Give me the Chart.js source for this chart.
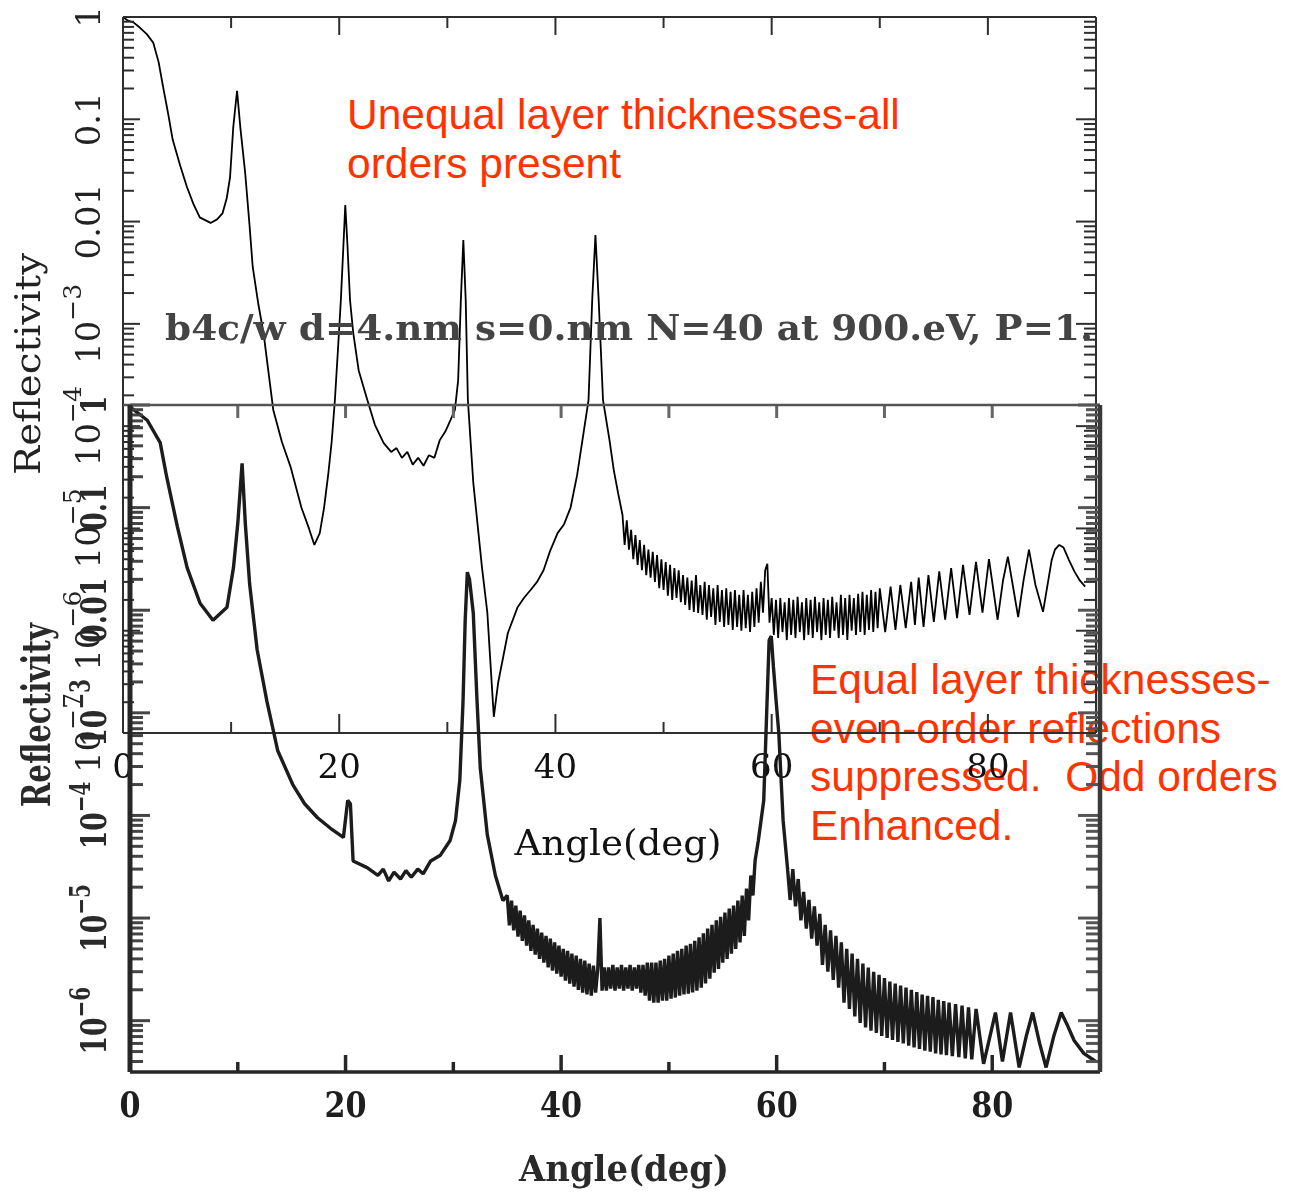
<!DOCTYPE html>
<html>
<head>
<meta charset="utf-8">
<script src="https://cdn.jsdelivr.net/npm/chart.js@4"></script>
<style>
  html, body { margin: 0; padding: 0; background: #fff; }
  #stage { position: relative; width: 1291px; height: 1199px; overflow: hidden; }
  #stage canvas { position: absolute; left: 0; top: 0; }
  .note { position: absolute; z-index: 0; color: #ff3300; font-family: "Liberation Sans", Arial, sans-serif;
          font-size: 42.5px; line-height: 48.5px; white-space: pre; }
</style>
</head>
<body>
<div id="stage">
  <div class="note" style="left:347px; top:91px;">Unequal layer thicknesses-all
orders present</div>
  <div class="note" style="left:810px; top:656px;">Equal layer thicknesses-
even-order reflections
suppressed.  Odd orders
Enhanced.</div>
  <canvas id="top" width="1291" height="1199" style="z-index:1"></canvas>
  <canvas id="bottom" width="1291" height="1199" style="z-index:2"></canvas>
</div>
<script>
// unequal layers (upper plot)
const topAngle = [
  0, 0.4, 1.0, 1.6, 2.2, 2.8, 3.3, 3.7, 4.2, 4.6,
  5.3, 5.9, 6.5, 7.1, 8.1, 8.7, 9.2, 9.6, 9.9, 10.2,
  10.55, 10.85, 11.3, 11.7, 12.0, 12.5, 13.0, 13.9, 14.7, 15.5,
  16.5, 17.2, 17.7, 18.2, 18.6, 19.0, 19.3, 19.6, 19.9, 20.15,
  20.4, 20.56, 20.75, 21.0, 21.3, 21.8, 22.6, 23.3, 24.1, 24.8,
  25.3, 25.8, 26.3, 26.8, 27.3, 27.8, 28.3, 28.8, 29.3, 29.8,
  30.3, 30.7, 31.0, 31.25, 31.48, 31.7, 31.9, 32.4, 33.2, 33.7,
  34.2, 34.3, 34.7, 35.6, 36.5, 37.1, 37.7, 38.3, 38.9, 39.5,
  40.2, 40.8, 41.4, 42.0, 42.6, 43.06, 43.4, 43.7, 44.0, 44.4,
  45.0, 45.4, 45.8, 46.2, 46.4, 46.6, 46.8, 47.0, 47.2, 47.4,
  47.6, 47.8, 48.0, 48.2, 48.4, 48.6, 48.8, 49.0, 49.2, 49.4,
  49.6, 49.8, 50.0, 50.2, 50.4, 50.6, 50.8, 51.0, 51.2, 51.4,
  51.6, 51.8, 52.0, 52.2, 52.4, 52.6, 52.8, 53.0, 53.2, 53.4,
  53.6, 53.8, 54.0, 54.2, 54.4, 54.6, 54.8, 55.0, 55.2, 55.4,
  55.6, 55.8, 56.0, 56.2, 56.4, 56.6, 56.8, 57.0, 57.2, 57.4,
  57.6, 57.8, 58.0, 58.2, 58.4, 58.6, 58.8, 59.0, 59.2, 59.4,
  59.6, 59.8, 60.0, 60.2, 60.4, 60.6, 60.8, 61.0, 61.2, 61.4,
  61.6, 61.8, 62.0, 62.2, 62.4, 62.6, 62.8, 63.0, 63.2, 63.4,
  63.6, 63.8, 64.0, 64.2, 64.4, 64.6, 64.8, 65.0, 65.2, 65.4,
  65.6, 65.8, 66.0, 66.2, 66.4, 66.6, 66.8, 67.0, 67.2, 67.4,
  67.6, 67.8, 68.0, 68.2, 68.4, 68.6, 68.8, 69.0, 69.2, 69.4,
  69.6, 69.8, 70.0, 70.5, 71.0, 71.45, 71.9, 72.4, 72.9, 73.25,
  73.6, 74.05, 74.5, 75.0, 75.5, 76.05, 76.6, 77.15, 77.7, 78.3,
  78.9, 79.5, 80.1, 80.9, 81.4, 81.85, 82.3, 82.8, 83.3, 83.8,
  84.4, 85.1, 85.9, 86.2, 86.6, 87.0, 87.5, 88.0, 88.5, 89.0
];
const topRefl = [
  1.0, 0.93, 0.88, 0.78, 0.68, 0.56, 0.36, 0.21, 0.11, 0.063,
  0.035, 0.022, 0.015, 0.011, 0.0097, 0.0105, 0.012, 0.017, 0.027, 0.084,
  0.19, 0.084, 0.030, 0.0093, 0.0036, 0.0016, 8.1e-4, 1.44e-4, 7.0e-5, 4.0e-5,
  1.6e-5, 1.0e-5, 6.9e-6, 9.0e-6, 1.6e-5, 3.5e-5, 7.0e-5, 1.8e-4, 6.0e-4, 1.7e-3,
  6.2e-3, 0.0145, 6.2e-3, 1.7e-3, 8.1e-4, 3.5e-4, 1.8e-4, 1.03e-4, 6.85e-5, 5.6e-5,
  6.1e-5, 4.9e-5, 5.6e-5, 4.2e-5, 4.9e-5, 4.1e-5, 5.2e-5, 4.9e-5, 7.3e-5, 8.8e-5,
  1.15e-4, 1.44e-4, 2.8e-4, 1.7e-3, 6.6e-3, 1.7e-3, 1.8e-4, 2.8e-5, 4.2e-6, 1.5e-6,
  2.1e-7, 1.44e-7, 3.1e-7, 9.5e-7, 1.7e-6, 2.1e-6, 2.5e-6, 3.0e-6, 3.9e-6, 6.0e-6,
  9.0e-6, 1.1e-5, 1.6e-5, 3.3e-5, 8.6e-5, 1.8e-4, 1.7e-3, 7.4e-3, 1.7e-3, 1.8e-4,
  7.3e-5, 3.7e-5, 2.2e-5, 1.36e-5, 6.9e-6, 1.2e-5, 6.2e-6, 9.7e-6, 5.0e-6, 8.6e-6,
  4.4e-6, 7.7e-6, 3.9e-6, 6.9e-6, 3.5e-6, 6.2e-6, 3.3e-6, 5.9e-6, 3.0e-6, 5.5e-6,
  2.6e-6, 5.0e-6, 2.5e-6, 4.7e-6, 2.2e-6, 4.4e-6, 2.0e-6, 4.1e-6, 2.09e-6, 3.9e-6,
  1.9e-6, 3.5e-6, 1.79e-6, 3.3e-6, 1.6e-6, 3.1e-6, 1.53e-6, 3.5e-6, 1.49e-6, 2.8e-6,
  1.43e-6, 3.0e-6, 1.28e-6, 2.8e-6, 1.36e-6, 2.6e-6, 1.14e-6, 2.8e-6, 1.22e-6, 2.5e-6,
  1.09e-6, 2.6e-6, 1.14e-6, 2.4e-6, 1.02e-6, 2.5e-6, 1.09e-6, 2.24e-6, 1.0e-6, 2.5e-6,
  1.06e-6, 2.24e-6, 9.7e-7, 2.4e-6, 1.09e-6, 2.6e-6, 1.2e-6, 3.0e-6, 1.5e-6, 3.9e-6,
  4.5e-6, 1.2e-6, 2.09e-6, 9.1e-7, 2.0e-6, 8.5e-7, 2.09e-6, 9.7e-7, 1.9e-6, 8.1e-7,
  2.09e-6, 9.1e-7, 2.0e-6, 8.5e-7, 2.14e-6, 9.7e-7, 1.9e-6, 8.1e-7, 2.09e-6, 9.1e-7,
  2.0e-6, 8.5e-7, 2.14e-6, 9.7e-7, 1.9e-6, 8.1e-7, 2.09e-6, 9.1e-7, 2.0e-6, 8.5e-7,
  2.14e-6, 1.0e-6, 1.9e-6, 8.5e-7, 2.24e-6, 9.1e-7, 2.09e-6, 8.1e-7, 2.24e-6, 1.0e-6,
  2.09e-6, 9.1e-7, 2.3e-6, 9.7e-7, 2.4e-6, 9.1e-7, 2.24e-6, 1.02e-6, 2.5e-6, 9.7e-7,
  2.4e-6, 1.06e-6, 2.6e-6, 9.7e-7, 2.7e-6, 1.02e-6, 2.8e-6, 1.06e-6, 3.0e-6, 1.14e-6,
  3.3e-6, 1.09e-6, 3.5e-6, 1.22e-6, 3.8e-6, 1.28e-6, 4.1e-6, 1.33e-6, 4.4e-6, 1.43e-6,
  4.7e-6, 1.5e-6, 5.0e-6, 1.28e-6, 3.1e-6, 5.3e-6, 2.8e-6, 1.36e-6, 3.1e-6, 6.2e-6,
  2.8e-6, 1.53e-6, 4.9e-6, 6.2e-6, 6.9e-6, 6.5e-6, 4.9e-6, 3.8e-6, 3.1e-6, 2.7e-6
];

// equal layers (lower plot)
const botAngle = [
  0, 1.6, 2.8, 3.4, 4.4, 5.3, 6.5, 7.7, 9.0, 9.6,
  10.0, 10.4, 10.7, 11.1, 11.8, 12.7, 13.7, 15.1, 16.2, 17.4,
  18.6, 19.8, 20.2, 20.45, 20.7, 22.0, 23.0, 23.5, 24.0, 24.5,
  25.1, 25.6, 26.1, 26.7, 27.2, 27.9, 28.8, 29.7, 30.2, 30.6,
  30.9, 31.1, 31.3, 31.5, 31.85, 32.2, 32.5, 33.15, 33.9, 34.6,
  35.0, 35.2, 35.4, 35.6, 35.8, 36.0, 36.2, 36.4, 36.6, 36.8,
  37.0, 37.2, 37.4, 37.6, 37.8, 38.0, 38.2, 38.4, 38.6, 38.8,
  39.0, 39.2, 39.4, 39.6, 39.8, 40.0, 40.2, 40.4, 40.6, 40.8,
  41.0, 41.2, 41.4, 41.6, 41.8, 42.0, 42.2, 42.4, 42.6, 42.8,
  43.0, 43.2, 43.4, 43.6, 43.8, 44.0, 44.2, 44.4, 44.6, 44.8,
  45.0, 45.2, 45.4, 45.6, 45.8, 46.0, 46.2, 46.4, 46.6, 46.8,
  47.0, 47.2, 47.4, 47.6, 47.8, 48.0, 48.2, 48.4, 48.6, 48.8,
  49.0, 49.2, 49.4, 49.6, 49.8, 50.0, 50.2, 50.4, 50.6, 50.8,
  51.0, 51.2, 51.4, 51.6, 51.8, 52.0, 52.2, 52.4, 52.6, 52.8,
  53.0, 53.2, 53.4, 53.6, 53.8, 54.0, 54.2, 54.4, 54.6, 54.8,
  55.0, 55.2, 55.4, 55.6, 55.8, 56.0, 56.2, 56.4, 56.6, 56.8,
  57.0, 57.2, 57.4, 57.6, 57.8, 58.0, 58.3, 58.8, 59.05, 59.3,
  59.5, 59.7, 59.95, 60.2, 60.6, 61.0, 61.25, 61.5, 61.75, 62.0,
  62.25, 62.5, 62.75, 63.0, 63.25, 63.5, 63.75, 64.0, 64.25, 64.5,
  64.75, 65.0, 65.25, 65.5, 65.75, 66.0, 66.25, 66.5, 66.75, 67.0,
  67.25, 67.5, 67.75, 68.0, 68.25, 68.5, 68.75, 69.0, 69.25, 69.5,
  69.75, 70.0, 70.25, 70.5, 70.75, 71.0, 71.25, 71.5, 71.75, 72.0,
  72.25, 72.5, 72.75, 73.0, 73.25, 73.5, 73.75, 74.0, 74.25, 74.5,
  74.75, 75.0, 75.25, 75.5, 75.75, 76.0, 76.3, 76.6, 76.9, 77.2,
  77.5, 77.8, 78.1, 78.5, 79.2, 80.3, 80.95, 81.7, 82.5, 83.15,
  83.75, 84.4, 85.0, 85.7, 86.4, 87.0, 87.6, 88.5, 89.6
];
const botRefl = [
  0.96, 0.71, 0.43, 0.2, 0.065, 0.026, 0.0117, 0.008, 0.0107, 0.026,
  0.07, 0.27, 0.07, 0.018, 4.1e-3, 1.3e-3, 4.3e-4, 2.0e-4, 1.3e-4, 9.5e-5,
  7.5e-5, 6.1e-5, 1.4e-4, 1.3e-4, 3.6e-5, 3.1e-5, 2.6e-5, 3.0e-5, 2.3e-5, 2.8e-5,
  2.4e-5, 2.9e-5, 2.5e-5, 3.0e-5, 2.7e-5, 3.6e-5, 4.1e-5, 5.7e-5, 8.9e-5, 2.2e-4,
  1.3e-3, 8.0e-3, 0.0235, 0.02, 9.4e-3, 1.3e-3, 2.9e-4, 6.5e-5, 2.6e-5, 1.48e-5,
  1.66e-5, 8.5e-6, 1.48e-5, 7.6e-6, 1.32e-5, 6.6e-6, 1.18e-5, 6.0e-6, 1.06e-5, 5.4e-6,
  9.5e-6, 4.8e-6, 8.6e-6, 4.4e-6, 7.9e-6, 4.0e-6, 7.2e-6, 3.68e-6, 6.7e-6, 3.3e-6,
  6.3e-6, 3.07e-6, 5.8e-6, 2.88e-6, 5.4e-6, 2.69e-6, 5.0e-6, 2.45e-6, 4.8e-6, 2.3e-6,
  4.5e-6, 2.15e-6, 4.3e-6, 2.0e-6, 4.0e-6, 1.88e-6, 3.85e-6, 1.8e-6, 3.6e-6, 1.75e-6,
  3.44e-6, 1.88e-6, 3.2e-6, 1.0e-5, 1.96e-6, 3.3e-6, 1.96e-6, 3.3e-6, 2.05e-6, 3.5e-6,
  1.96e-6, 3.3e-6, 2.05e-6, 3.5e-6, 1.96e-6, 3.3e-6, 2.05e-6, 3.5e-6, 1.96e-6, 3.3e-6,
  2.05e-6, 3.5e-6, 1.88e-6, 3.5e-6, 1.75e-6, 3.68e-6, 1.57e-6, 3.68e-6, 1.5e-6, 3.68e-6,
  1.5e-6, 3.85e-6, 1.57e-6, 4.0e-6, 1.57e-6, 4.3e-6, 1.64e-6, 4.5e-6, 1.68e-6, 4.8e-6,
  1.75e-6, 5.0e-6, 1.8e-6, 5.4e-6, 1.83e-6, 5.6e-6, 1.88e-6, 6.0e-6, 1.96e-6, 6.5e-6,
  2.1e-6, 7.1e-6, 2.3e-6, 7.9e-6, 2.57e-6, 8.6e-6, 2.94e-6, 9.5e-6, 3.2e-6, 1.03e-5,
  3.68e-6, 1.13e-5, 4.0e-6, 1.24e-5, 4.5e-6, 1.32e-5, 5.0e-6, 1.48e-5, 5.8e-6, 1.66e-5,
  6.7e-6, 1.94e-5, 9.5e-6, 2.6e-5, 1.66e-5, 3.64e-5, 5.7e-5, 1.4e-4, 8.45e-4, 5.1e-3,
  5.6e-3, 2.8e-3, 1.3e-3, 6.3e-4, 8.9e-5, 3.1e-5, 1.5e-5, 3.0e-5, 1.3e-5, 2.4e-5,
  9.5e-6, 1.8e-5, 7.9e-6, 1.5e-5, 6.3e-6, 1.3e-5, 5.4e-6, 1.1e-5, 3.5e-6, 8.6e-6,
  3.0e-6, 7.6e-6, 2.5e-6, 6.7e-6, 2.1e-6, 5.8e-6, 1.5e-6, 5.0e-6, 1.3e-6, 4.5e-6,
  1.1e-6, 4.0e-6, 9.5e-7, 3.6e-6, 8.6e-7, 3.3e-6, 8.0e-7, 3.0e-6, 7.6e-7, 2.8e-6,
  7.1e-7, 2.6e-6, 6.8e-7, 2.4e-6, 6.5e-7, 2.3e-6, 6.2e-7, 2.2e-6, 6.0e-7, 2.1e-6,
  5.7e-7, 2.0e-6, 5.5e-7, 1.9e-6, 5.3e-7, 1.8e-6, 5.1e-7, 1.75e-6, 5.0e-7, 1.7e-6,
  4.8e-7, 1.6e-6, 4.7e-7, 1.55e-6, 4.6e-7, 1.5e-6, 4.5e-7, 1.45e-6, 4.4e-7, 1.4e-6,
  4.3e-7, 1.35e-6, 4.2e-7, 1.3e-6, 3.8e-7, 1.2e-6, 4.0e-7, 1.2e-6, 3.5e-7, 7.0e-7,
  1.2e-6, 6.0e-7, 3.5e-7, 7.0e-7, 1.2e-6, 8.9e-7, 6.4e-7, 4.8e-7, 4.0e-7
];

// axis ticks and labels
const xMajor = [0, 20, 40, 60, 80];
const xMinor = [10, 30, 50, 70];
const xEvery10 = [10, 20, 30, 40, 50, 60, 70, 80];
const topYTicks = [1, 0.1, 0.01, 1e-3, 1e-4, 1e-5, 1e-6, 1e-7];
const topYBase = ['1', '0.1', '0.01', '10', '10', '10', '10', '10'];
const topYExp = ['', '', '', '\u22123', '\u22124', '\u22125', '\u22126', '\u22127'];
const botYTicks = [1, 0.1, 0.01, 1e-3, 1e-4, 1e-5, 1e-6];
const botYBase = ['1', '0.1', '0.01', '10', '10', '10', '10'];
const botYExp = ['', '', '', '\u22123', '\u22124', '\u22125', '\u22126'];

const SERIF = '"DejaVu Serif", "Liberation Serif", serif';

function rotText(ctx, s, x, y, o) {
  ctx.save();
  ctx.translate(x, y);
  if (o.rot) ctx.rotate(o.rot);
  ctx.font = o.font;
  ctx.fillStyle = o.color || '#111';
  const w = ctx.measureText(s).width;
  const sx = o.width ? o.width / w : (o.sx || 1);
  ctx.scale(sx, 1);
  ctx.fillText(s, -w / 2, 0);
  ctx.restore();
}

function powLabel(ctx, base, exp, x, y, o) {
  ctx.save();
  ctx.translate(x, y);
  ctx.rotate(-Math.PI / 2);
  ctx.scale(o.sx || 1, 1);
  ctx.fillStyle = o.color;
  ctx.font = o.font;
  const wb = ctx.measureText(base).width;
  ctx.font = o.supFont;
  const we = exp ? ctx.measureText(exp).width : 0;
  const x0 = -(wb + we) / 2;
  ctx.font = o.font;
  ctx.fillText(base, x0, 0);
  if (exp) {
    ctx.font = o.supFont;
    ctx.fillText(exp, x0 + wb, -o.raise);
  }
  ctx.restore();
}

const axisFrame = {
  id: 'axisFrame',
  afterDatasetsDraw(chart, args, o) {
    const { ctx, chartArea: a } = chart;
    const xs = chart.scales.x, ys = chart.scales.y;
    ctx.save();
    ctx.lineCap = 'butt';

    // inward x ticks
    for (const t of o.xTicks) {
      ctx.strokeStyle = t.color;
      ctx.lineWidth = t.width;
      const y0 = t.edge === 'top' ? a.top : a.bottom;
      const dir = t.edge === 'top' ? 1 : -1;
      for (const v of t.values) {
        const px = xs.getPixelForValue(v);
        ctx.beginPath();
        ctx.moveTo(px, y0);
        ctx.lineTo(px, y0 + dir * t.len);
        ctx.stroke();
      }
    }

    // inward log y ticks, 1..9 per decade
    const lo = Math.floor(Math.log10(ys.min) + 1e-9);
    const hi = Math.ceil(Math.log10(ys.max) - 1e-9);
    for (const t of o.yTicks) {
      ctx.strokeStyle = t.color;
      ctx.lineWidth = t.width;
      const x0 = t.edge === 'left' ? a.left : a.right;
      const dir = t.edge === 'left' ? 1 : -1;
      for (let d = lo; d <= hi; d++) {
        for (let m = 1; m <= 9; m++) {
          const v = m * Math.pow(10, d);
          if (v < ys.min * 0.999 || v > ys.max * 1.001) continue;
          const py = ys.getPixelForValue(v);
          ctx.beginPath();
          ctx.moveTo(x0, py);
          ctx.lineTo(x0 + dir * (m === 1 ? t.major : t.minor), py);
          ctx.stroke();
        }
      }
    }

    // frame
    const s = o.sides;
    const seg = (st, x1, y1, x2, y2) => {
      ctx.strokeStyle = st[1];
      ctx.lineWidth = st[0];
      ctx.beginPath();
      ctx.moveTo(x1, y1);
      ctx.lineTo(x2, y2);
      ctx.stroke();
    };
    seg(s.top, (s.topFrom ?? a.left), a.top, a.right, a.top);
    seg(s.bottom, a.left, a.bottom, a.right, a.bottom);
    seg(s.left, a.left, a.top, a.left, a.bottom);
    seg(s.right, a.right, a.top, a.right, a.bottom);

    // x tick labels
    const xl = o.xLabels;
    for (const v of xl.values) {
      rotText(ctx, String(v), xs.getPixelForValue(v), xl.y, { font: xl.font, color: xl.color, sx: xl.sx });
    }

    // y tick labels, rotated
    const yl = o.yLabels;
    yl.values.forEach((v, i) => {
      powLabel(ctx, yl.base[i], yl.exp[i], yl.x, ys.getPixelForValue(v), yl);
    });

    for (const t of o.titles) {
      rotText(ctx, t.text, t.x, t.y, t);
    }
    ctx.restore();
  }
};

function plot(id, pad, yMin, xs, ys, line, frame) {
  return new Chart(document.getElementById(id), {
    type: 'line',
    data: {
      datasets: [{
        data: xs.map((x, i) => ({ x, y: ys[i] })),
        borderColor: line.color,
        borderWidth: line.width,
        borderJoinStyle: 'bevel',
        pointRadius: 0,
        tension: 0,
      }],
    },
    options: {
      responsive: false,
      animation: false,
      devicePixelRatio: 1,
      layout: { padding: pad },
      scales: {
        x: { type: 'linear', min: 0, max: 90, display: false },
        y: { type: 'logarithmic', min: yMin, max: 1, display: false },
      },
      plugins: { legend: { display: false }, tooltip: { enabled: false }, axisFrame: frame },
    },
    plugins: [axisFrame],
  });
}

const ink = '#2e2e2e';
plot('top', { left: 123, right: 1291 - 1096, top: 17, bottom: 1199 - 733 }, 1e-7,
  topAngle, topRefl, { color: '#000', width: 1.8 },
  {
    sides: { top: [2, ink], bottom: [2, ink], left: [2, ink], right: [2, ink] },
    xTicks: [
      { edge: 'top', values: xMajor, len: 18, width: 2, color: ink },
      { edge: 'top', values: xMinor, len: 11, width: 2, color: ink },
      { edge: 'bottom', values: xMajor, len: 19, width: 2, color: ink },
      { edge: 'bottom', values: xMinor, len: 11, width: 2, color: ink },
    ],
    yTicks: [
      { edge: 'left', major: 17, minor: 11, width: 2, color: ink },
      { edge: 'right', major: 20, minor: 12, width: 2, color: ink },
    ],
    xLabels: { values: xMajor, y: 778, font: '34px ' + SERIF, color: '#111' },
    yLabels: { values: topYTicks, base: topYBase, exp: topYExp, x: 100,
               font: '34px ' + SERIF, supFont: '25px ' + SERIF, raise: 19, color: '#222' },
    titles: [
      { text: 'Angle(deg)', x: 618, y: 855, font: '36px ' + SERIF, width: 207, color: '#111' },
      { text: 'Reflectivity', x: 40, y: 364, rot: -Math.PI / 2, font: '36px ' + SERIF, width: 222, color: '#222' },
      { text: 'b4c/w d=4.nm s=0.nm N=40 at 900.eV, P=1.', x: 629, y: 340,
        font: 'bold 36px ' + SERIF, width: 928, color: '#444' },
    ],
  });

const dark = '#262626';
plot('bottom', { left: 130, right: 1291 - 1100, top: 405, bottom: 1199 - 1072 }, 3.16e-7,
  botAngle, botRefl, { color: '#1c1c1c', width: 3.4 },
  {
    sides: { top: [2.5, '#555'], topFrom: 123, bottom: [3.5, dark], left: [5, dark], right: [4.5, '#3a3a3a'] },
    xTicks: [
      { edge: 'top', values: xEvery10, len: 13, width: 3, color: '#666' },
      { edge: 'bottom', values: [20, 40, 60, 80], len: 17, width: 3.5, color: dark },
      { edge: 'bottom', values: xMinor, len: 10, width: 3.5, color: dark },
    ],
    yTicks: [
      { edge: 'left', major: 20, minor: 13, width: 3, color: '#444' },
      { edge: 'right', major: 22, minor: 14, width: 3, color: '#555' },
    ],
    xLabels: { values: xMajor, y: 1117, font: 'bold 36px ' + SERIF, color: '#1e1e1e', sx: 0.84 },
    yLabels: { values: botYTicks, base: botYBase, exp: botYExp, x: 106, sx: 0.74,
               font: 'bold 36px ' + SERIF, supFont: 'bold 27px ' + SERIF, raise: 16, color: '#2a2a2a' },
    titles: [
      { text: 'Angle(deg)', x: 624, y: 1181, font: 'bold 35px ' + SERIF, width: 210, color: '#2a2a2a' },
      { text: 'Reflectivity', x: 50, y: 715, rot: -Math.PI / 2, font: 'bold 40px ' + SERIF, width: 184, color: '#2a2a2a' },
    ],
  });
</script>
</body>
</html>
